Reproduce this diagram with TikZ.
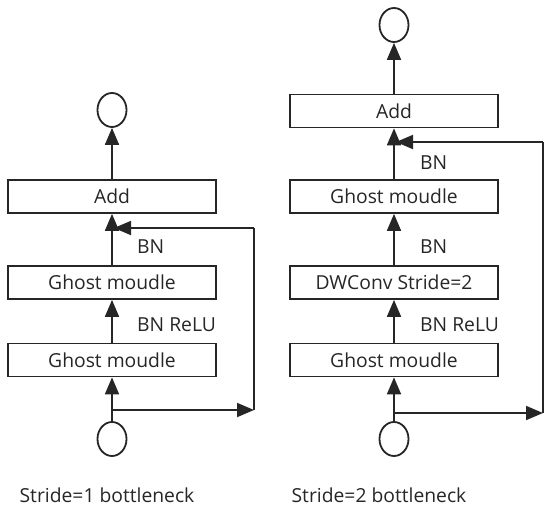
\documentclass[tikz,border=0pt]{standalone}
\usepackage{fontspec}
\setmainfont{Open Sans}
\usetikzlibrary{shapes.geometric,arrows.meta}
\definecolor{ink}{HTML}{262626}
\begin{document}
\begin{tikzpicture}[x=1pt,y=-1pt,
  every node/.style={font=\fontsize{19.3}{21}\selectfont, text=ink},
  blk/.style={draw=ink, line width=1.8pt, minimum width=208pt, minimum height=33pt, inner sep=0pt},
  circ/.style={draw=ink, line width=1.8pt, ellipse, minimum width=29pt, minimum height=34pt, inner sep=0pt},
  conn/.style={draw=ink, line width=1.8pt, -{Triangle[length=17pt,width=14pt]}},
  plain/.style={draw=ink, line width=1.8pt},
  lbl/.style={anchor=west, inner sep=0pt}]
\useasboundingbox (0,0) rectangle (550,512);
% left bottleneck
\node[circ] (lout) at (112,110) {};
\node[blk] (ladd) at (112,196.5) {Add};
\node[blk] (lg1) at (112,282.5) {Ghost moudle};
\node[blk] (lg2) at (112,360) {Ghost moudle};
\node[circ] (lin) at (112,439) {};
\coordinate (lsplit) at (112,410);
\coordinate (lr) at (254,410);
\coordinate (lrt) at (254,228);
\coordinate (lj) at (114,228);
\draw[conn] (ladd) -- (lout);
\draw[conn] (lg1) -- (ladd);
\draw[conn] (lg2) -- (lg1);
\draw[conn] (lin) -- (lg2);
\draw[conn] (lsplit) -- (lr);
\draw[plain] (lr) -- (lrt);
\draw[conn] (lrt) -- (lj);
\node[lbl] (lbn) at (137,247) {BN};
\node[lbl] (lbnr) at (137,325) {BN ReLU};
\node (lcap) at (107,495) {Stride=1 bottleneck};
% right bottleneck
\node[circ] (rout) at (394,25) {};
\node[blk] (radd) at (394,111) {Add};
\node[blk] (rg1) at (394,196.5) {Ghost moudle};
\node[blk] (rdw) at (394,282.5) {DWConv Stride=2};
\node[blk] (rg2) at (394,360) {Ghost moudle};
\node[circ] (rin) at (394,439) {};
\coordinate (rsplit) at (394,413);
\coordinate (rr) at (543,413);
\coordinate (rrt) at (543,142);
\coordinate (rj) at (396,142);
\draw[conn] (radd) -- (rout);
\draw[conn] (rg1) -- (radd);
\draw[conn] (rdw) -- (rg1);
\draw[conn] (rg2) -- (rdw);
\draw[conn] (rin) -- (rg2);
\draw[conn] (rsplit) -- (rr);
\draw[plain] (rr) -- (rrt);
\draw[conn] (rrt) -- (rj);
\node[lbl] (rbn1) at (420,163) {BN};
\node[lbl] (rbn2) at (420,247) {BN};
\node[lbl] (rbnr) at (420,325) {BN ReLU};
\node (rcap) at (379,495) {Stride=2 bottleneck};
\end{tikzpicture}
\end{document}
